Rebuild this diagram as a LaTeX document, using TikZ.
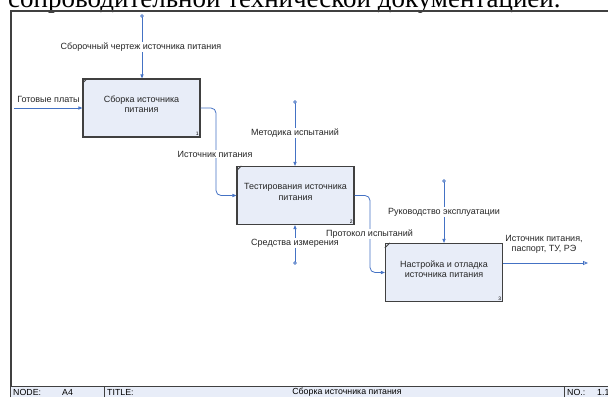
\documentclass[tikz,border=0pt]{standalone}
\usepackage{fontspec}
\setmainfont{Liberation Sans}
\newfontfamily\serifru{Liberation Serif}
\usetikzlibrary{positioning, arrows.meta}
\definecolor{arrowblue}{RGB}{68,114,196}
\definecolor{boxfill}{RGB}{232,237,248}
\definecolor{framegray}{RGB}{64,64,64}

\begin{document}
\begin{tikzpicture}[x=1pt, y=-1pt, font=\fontsize{9}{10.2}\selectfont]
    \tikzstyle{func} = [rectangle, minimum width=117pt, minimum height=58pt, draw=framegray, line width=1.2pt, fill=boxfill]
    \tikzstyle{boxtxt} = [align=center, text=black!85, inner sep=0pt]
    \tikzstyle{num} = [font=\fontsize{5}{5}\selectfont, inner sep=1.8pt]
    \tikzstyle{flow} = [draw=arrowblue, line width=0.8pt, -{Triangle[length=4pt,width=3.2pt]}]
    \tikzstyle{tag} = [fill=white, inner sep=1pt, text=black!85]
    \tikzstyle{dot} = [draw=arrowblue, fill=white, line width=0.6pt]
    \useasboundingbox (0,0) rectangle (608,397);
    \clip (0,0) rectangle (608,397);
\node[anchor=base west, inner sep=0pt, font=\serifru\fontsize{27}{30}\selectfont] (head) at (8,7.5) {сопроводительной технической документацией.};
\draw[framegray, line width=1.2pt] (11,397) -- (11,11) -- (608,11);
\fill[boxfill] (11,386) rectangle (608,397);
\draw[framegray, line width=1pt] (11,386) -- (608,386);
\draw[framegray, line width=1pt] (104,386) -- (104,397);
\draw[framegray, line width=1pt] (564,386) -- (564,397);
\node[anchor=west, inner sep=0pt, font=\fontsize{8.8}{10}\selectfont] (fnode) at (13,392) {NODE:};
\node[anchor=west, inner sep=0pt, font=\fontsize{8.8}{10}\selectfont] (fa) at (62,392) {A4};
\node[anchor=west, inner sep=0pt, font=\fontsize{8.8}{10}\selectfont] (ftitle) at (107,392) {TITLE:};
\node[inner sep=0pt, font=\fontsize{8.8}{10}\selectfont] (fname) at (347,392) {Сборка источника питания};
\node[anchor=west, inner sep=0pt, font=\fontsize{8.8}{10}\selectfont] (fno) at (567,392) {NO.:};
\node[anchor=west, inner sep=0pt, font=\fontsize{8.8}{10}\selectfont] (fnum) at (597,392) {1.1};

\node[func, label={[boxtxt, yshift=3.5pt]center:{Сборка источника\\питания}}, label={[num, anchor=south east]south east:1}] (sborka) at (141.5,108) {};
\node[func, label={[boxtxt, yshift=3.5pt]center:{Тестирования источника\\питания}}, label={[num, anchor=south east]south east:2}] (test) at (295.5,195.5) {};
\node[func, label={[boxtxt, yshift=3.5pt]center:{Настройка и отладка\\источника питания}}, label={[num, anchor=south east]south east:3}] (nastr) at (444,272.5) {};
\draw[framegray, line width=0.8pt] ([yshift=-5pt]sborka.north west) -- ([xshift=5pt]sborka.north west);
\draw[framegray, line width=0.8pt] ([yshift=-5pt]test.north west) -- ([xshift=5pt]test.north west);
\draw[framegray, line width=0.8pt] ([yshift=-5pt]nastr.north west) -- ([xshift=5pt]nastr.north west);

\coordinate (c1) at (142,16);
\coordinate (in1) at (14,108);
\coordinate (j1) at (216,150);
\coordinate (c2) at (295,102);
\coordinate (m2) at (295,263);
\coordinate (j2) at (370,230);
\coordinate (c3) at (444,181);
\coordinate (end3) at (588,263);

\draw[flow] (c1) -- (c1 |- sborka.north);
\draw[dot] (c1) circle (1.4pt);
\node[tag] (lc1) at (141,47) {Сборочный чертеж источника питания};
\draw[flow] (in1) -- (sborka.west);
\node[tag] (lin1) at (48.5,99) {Готовые платы};
\draw[flow, rounded corners=5pt] (sborka.east) -| (j1) |- (test.west);
\node[tag] (lo1) at (215,154) {Источник питания};

\draw[flow] (c2) -- (c2 |- test.north);
\draw[dot] (c2) circle (1.4pt);
\node[tag] (lc2) at (295,133) {Методика испытаний};
\draw[flow] (m2) -- (m2 |- test.south);
\draw[dot] (m2) circle (1.4pt);
\node[tag] (lm2) at (295,243) {Средства измерения};
\draw[flow, rounded corners=5pt] (test.east) -| (j2) |- (nastr.west);
\node[tag] (lo2) at (369.5,234) {Протокол испытаний};

\draw[flow] (c3) -- (c3 |- nastr.north);
\draw[dot] (c3) circle (1.4pt);
\node[tag] (lc3) at (444,212) {Руководство эксплуатации};
\draw[draw=arrowblue, line width=0.8pt, -{Triangle[open, length=5pt, width=4pt]}] (nastr.east |- end3) -- (end3);
\node[align=center, text=black!85, inner sep=0pt] (lo3) at (544,244) {Источник питания,\\паспорт, ТУ, РЭ};
\end{tikzpicture}
\end{document}
